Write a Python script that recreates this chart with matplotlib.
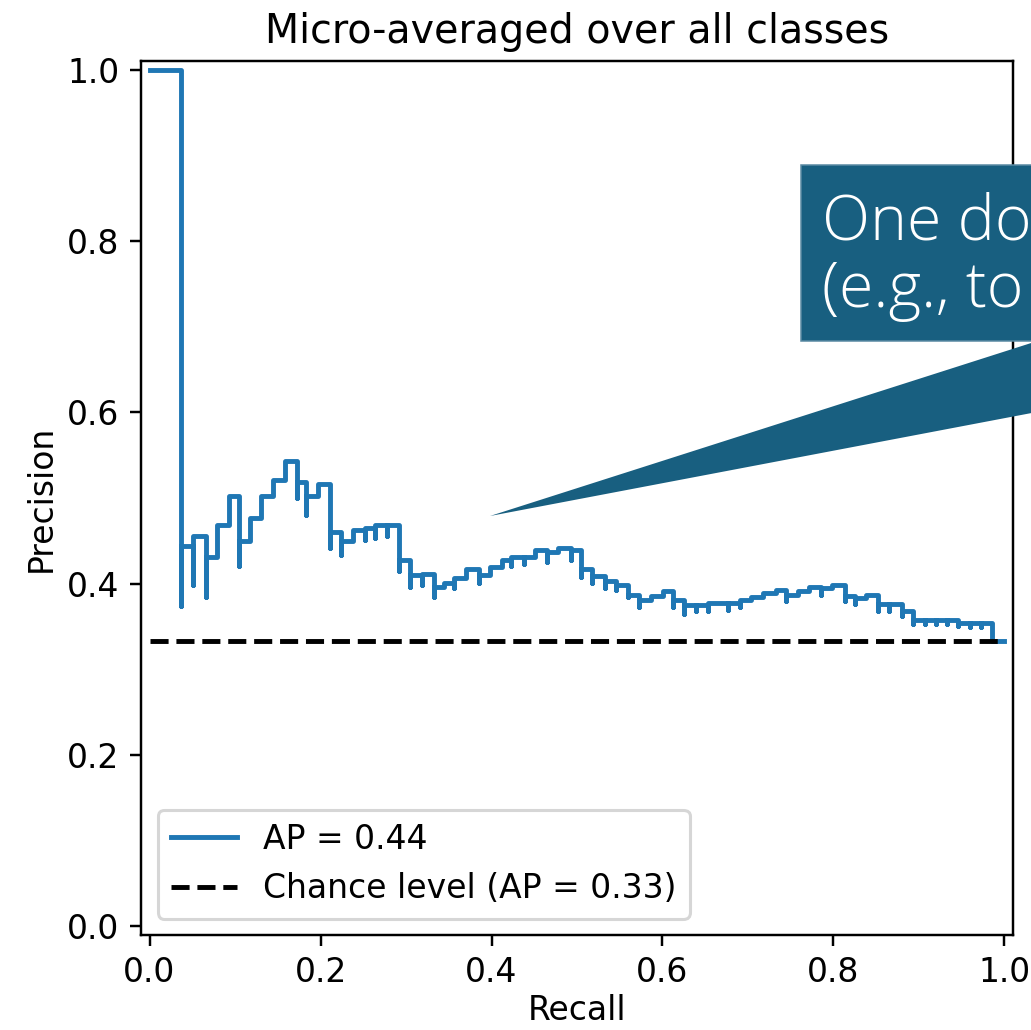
import matplotlib
matplotlib.use("Agg")
import matplotlib.pyplot as plt
from matplotlib.patches import Rectangle, Polygon

# precision-recall step points (increasing recall, steps-post)
recall = [0.0,
          0.0371, 0.0371, 0.0506, 0.0506, 0.0655, 0.0655, 0.0787, 0.0927,
          0.1041, 0.1041, 0.1170, 0.1306, 0.1442, 0.1587, 0.1727, 0.1727,
          0.1833, 0.1833, 0.1968, 0.2113, 0.2113, 0.2242, 0.2242, 0.2378,
          0.2526, 0.2526, 0.2640, 0.2640, 0.2775, 0.2775, 0.2916, 0.2916,
          0.3049, 0.3049, 0.3189, 0.3189, 0.3333, 0.3333, 0.3450,
          0.3567, 0.3567, 0.3704, 0.3852, 0.3852, 0.3977, 0.4125,
          0.4230, 0.4230, 0.4378, 0.4378, 0.4503, 0.4652, 0.4652, 0.4775,
          0.4933, 0.4933, 0.5049, 0.5049, 0.5177, 0.5177, 0.5322, 0.5322,
          0.5458, 0.5458, 0.5594, 0.5594, 0.5731, 0.5731, 0.5868, 0.6004,
          0.6120, 0.6120, 0.6257, 0.6257, 0.6394, 0.6394, 0.6530, 0.6530,
          0.6764, 0.6764, 0.6901, 0.6901, 0.7037, 0.7181, 0.7330,
          0.7447, 0.7447, 0.7582, 0.7719, 0.7856, 0.7856, 0.7985,
          0.8140, 0.8140, 0.8246, 0.8246, 0.8383, 0.8518, 0.8518,
          0.8655, 0.8655, 0.8803, 0.8803, 0.8928, 0.8928, 0.9076, 0.9076,
          0.9201, 0.9201, 0.9325, 0.9325, 0.9454, 0.9454, 0.9599, 0.9599,
          0.9728, 0.9728, 0.9856, 1.0]
precision = [1.0,
             0.3734, 0.4436, 0.3980, 0.4553, 0.3843, 0.4308, 0.4690, 0.5021,
             0.4202, 0.4503, 0.4767, 0.5021, 0.5208, 0.5430, 0.5001, 0.5188,
             0.4807, 0.5021, 0.5165, 0.4416, 0.4603, 0.4339, 0.4503, 0.4623,
             0.4506, 0.4650, 0.4533, 0.4690, 0.4561, 0.4690, 0.4144, 0.4273,
             0.3957, 0.4097, 0.3980, 0.4112, 0.3843, 0.3960, 0.4007,
             0.3949, 0.4066, 0.4171, 0.4007, 0.4105, 0.4194, 0.4281,
             0.4202, 0.4308, 0.4229, 0.4308, 0.4389, 0.4253, 0.4366, 0.4416,
             0.4281, 0.4397, 0.4074, 0.4171, 0.4007, 0.4085, 0.3949, 0.4027,
             0.3930, 0.3988, 0.3843, 0.3871, 0.3726, 0.3805, 0.3860, 0.3918,
             0.3726, 0.3813, 0.3645, 0.3746, 0.3676, 0.3746, 0.3676, 0.3773,
             0.3696, 0.3773, 0.3723, 0.3813, 0.3843, 0.3890, 0.3930,
             0.3793, 0.3871, 0.3910, 0.3957, 0.3871, 0.3949, 0.3980,
             0.3793, 0.3851, 0.3761, 0.3832, 0.3863, 0.3676, 0.3761,
             0.3676, 0.3761, 0.3618, 0.3676, 0.3532, 0.3579, 0.3532, 0.3579,
             0.3532, 0.3579, 0.3532, 0.3579, 0.3512, 0.3547, 0.3500, 0.3547,
             0.3500, 0.3547, 0.3333, 0.3333]

ap = 0.44
chance = 1 / 3
callout_lines = ["One do", "(e.g., to"]

plt.rcParams['font.size'] = 10.8

W, H = 1031, 1030
fig = plt.figure(figsize=(W / 220, H / 220), dpi=220)
ax = fig.add_axes([141 / W, 1 - 935 / H, 872 / W, 874 / H])

ax.plot(recall, precision, drawstyle='steps-post', color='tab:blue', lw=1.6,
        label='AP = {:.2f}'.format(ap))
ax.plot([0, 1], [chance, chance], 'k--', lw=1.6,
        label='Chance level (AP = {:.2f})'.format(chance))
ax.set_xlim(-0.01, 1.01)
ax.set_ylim(-0.01, 1.01)
ax.set_xlabel('Recall', labelpad=1.5)
ax.set_ylabel('Precision', labelpad=3)
ax.set_title('Micro-averaged over all classes')
ax.legend(loc='lower left')

# callout box + pointer (figure pixel space)
def fx(px):
    return px / W

def fy(py):
    return 1 - py / H

teal = '#185f80'
fig.patches.append(Polygon([(fx(490), fy(516)), (fx(1100), fy(321)), (fx(1100), fy(400))],
                           closed=True, transform=fig.transFigure, facecolor=teal,
                           edgecolor='none', zorder=5))
fig.patches.append(Rectangle((fx(801), fy(341)), fx(400), (341 - 165) / H,
                             transform=fig.transFigure, facecolor=teal,
                             edgecolor='#5a8aa3', linewidth=0.5, zorder=5))
fig.text(fx(822), fy(240), callout_lines[0], color='white', fontsize=20.5,
         family='Open Sans', fontweight='light', va='baseline', ha='left', zorder=6)
fig.text(fx(822), fy(307), callout_lines[1], color='white', fontsize=20.5,
         family='Open Sans', fontweight='light', va='baseline', ha='left', zorder=6)

fig.savefig('out.png', dpi=220)
